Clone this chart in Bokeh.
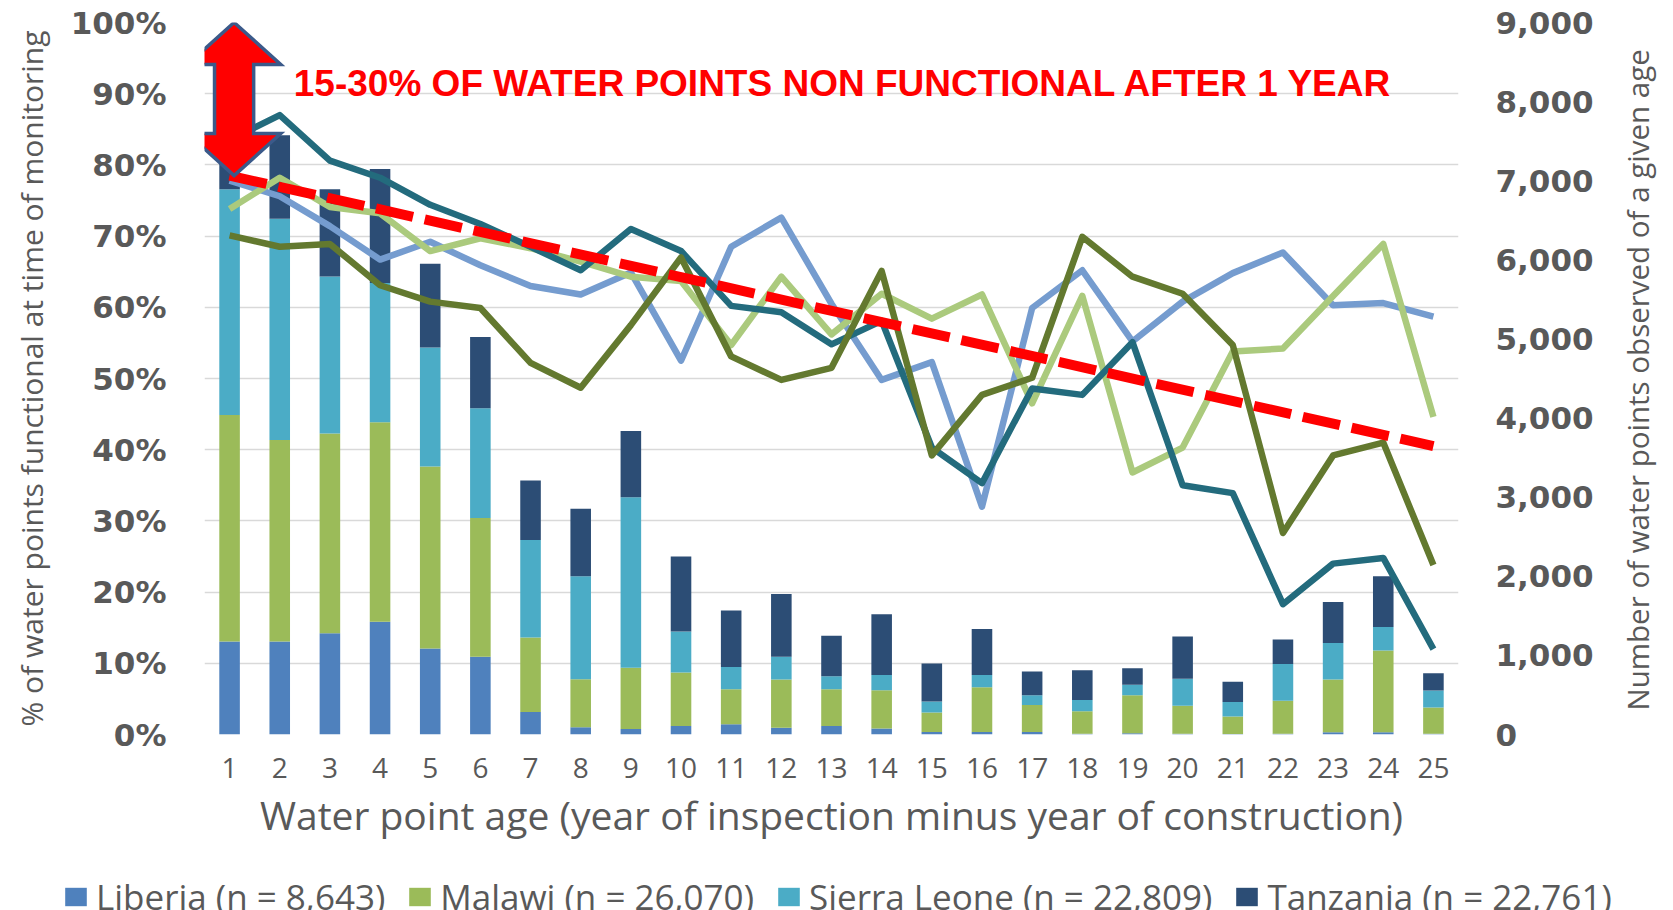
import math
from bokeh.plotting import figure
from bokeh.layouts import column, row
from bokeh.models import (Range1d, LinearAxis, FixedTicker, NumeralTickFormatter,
                          Legend, LegendItem, Label, ColumnDataSource)
from bokeh.embed import file_html
from bokeh.resources import INLINE

# ---------------- data ----------------
ages = [1, 2, 3, 4, 5, 6, 7, 8, 9, 10, 11, 12, 13, 14, 15, 16, 17, 18, 19, 20, 21, 22, 23, 24, 25]
age_labels = [str(a) for a in ages]

# number of water points observed of a given age (stacked bars, right axis)
liberia_counts = [1174, 1174, 1280, 1424, 1088, 982, 283, 91, 69, 107, 128, 85, 107, 75, 32, 32, 32, 10, 16, 11, 5, 11, 27, 27, 11]
malawi_counts = [2865, 2550, 2524, 2524, 2300, 1755, 944, 608, 774, 677, 443, 609, 464, 485, 245, 566, 341, 283, 480, 352, 224, 416, 667, 1035, 330]
sierra_leone_counts = [2854, 2795, 1984, 1760, 1504, 1387, 1232, 1302, 2155, 518, 283, 288, 165, 192, 139, 154, 123, 144, 134, 341, 182, 464, 464, 298, 214]
tanzania_counts = [900, 1057, 1105, 1441, 1057, 902, 753, 853, 838, 949, 714, 795, 512, 768, 480, 582, 299, 374, 208, 534, 256, 309, 517, 641, 219]

# % functional at time of monitoring (lines, left axis)
pct_liberia = [77.8, 75.6, 71.4, 66.7, 69.2, 65.9, 63.0, 61.8, 64.9, 52.5, 68.5, 72.6, 60.5, 49.8, 52.3, 32.0, 59.9, 65.2, 55.2, 60.8, 64.8, 67.7, 60.3, 60.6, 58.7]
pct_malawi = [73.8, 78.2, 74.1, 73.2, 67.9, 69.7, 68.3, 66.4, 64.3, 63.7, 54.7, 64.3, 56.2, 61.9, 58.4, 61.8, 46.5, 61.6, 36.8, 40.3, 53.8, 54.2, 61.6, 68.9, 44.6]
pct_sierra_leone = [83.5, 87.0, 80.6, 78.2, 74.4, 71.7, 68.5, 65.2, 71.0, 67.9, 60.2, 59.3, 54.8, 58.1, 40.3, 35.3, 48.6, 47.7, 55.1, 35.0, 33.9, 18.3, 24.0, 24.8, 12.0]
pct_tanzania = [70.1, 68.5, 68.9, 63.1, 60.8, 59.9, 52.2, 48.7, 57.5, 67.0, 53.1, 49.8, 51.5, 65.1, 39.2, 47.7, 50.1, 69.9, 64.3, 61.9, 54.7, 28.3, 39.2, 41.0, 23.8]

# red dashed trend
trend_ages = [1, 25]
trend_pct = [78.5, 40.5]

legend_labels = ["Liberia (n = 8,643)", "Malawi (n = 26,070)",
                 "Sierra Leone (n = 22,809)", "Tanzania (n = 22,761)"]
pct_ticks = [0, 10, 20, 30, 40, 50, 60, 70, 80, 90, 100]
count_ticks = [0, 1000, 2000, 3000, 4000, 5000, 6000, 7000, 8000, 9000]
annotation_text = "15-30% OF WATER POINTS NON FUNCTIONAL AFTER 1 YEAR"
left_title = "% of water points functional at time of monitoring"
right_title = "Number of water points observed of a given age"
x_title = "Water point age (year of inspection minus year of construction)"

# ---------------- styles ----------------
bar_colors = ["#4F81BD", "#9BBB59", "#4BACC6", "#2C4D75"]
line_colors = ["#759CCF", "#ABCA7D", "#236B7D", "#63792F"]
TXT = "#595959"

TOTAL_W, TOTAL_H = 1673, 910
MAIN_W, MAIN_H = 1610, 862
p = figure(width=MAIN_W, height=MAIN_H, output_backend="svg", toolbar_location=None,
           x_range=Range1d(0.5, 25.5), y_range=Range1d(0, 100),
           min_border_left=204, min_border_right=152, min_border_top=22,
           min_border_bottom=128)
p.outline_line_color = None
p.background_fill_color = "white"
p.border_fill_color = "white"
p.extra_y_ranges = {"count": Range1d(0, 9000)}

p.xgrid.grid_line_color = None
p.ygrid.grid_line_color = "#D9D9D9"
p.ygrid.grid_line_width = 1.5
p.ygrid.ticker = FixedTicker(ticks=pct_ticks)

# bars
src = ColumnDataSource(dict(age=ages, lib=liberia_counts, mal=malawi_counts,
                            sl=sierra_leone_counts, tz=tanzania_counts))
bars = p.vbar_stack(["lib", "mal", "sl", "tz"], x="age", width=0.41, color=bar_colors,
                    line_color=None, source=src, y_range_name="count")

# lines
for vals, col in zip([pct_liberia, pct_malawi, pct_sierra_leone, pct_tanzania], line_colors):
    p.line(ages, vals, line_color=col, line_width=6.5, line_join="round")

# trend dashed line
p.line(trend_ages, trend_pct, line_color="#FF0000", line_width=10, line_dash="38 12",
       line_cap="butt")

# double headed arrow (from 100% down to trend start)
cx, top, bot = 1.09, pct_ticks[-1], trend_pct[0]
hw, sw, hh = 0.93, 0.39, 5.9
ax_ = [cx, cx + hw, cx + sw, cx + sw, cx + hw, cx, cx - hw, cx - sw, cx - sw, cx - hw]
ay_ = [top, top - hh, top - hh, bot + hh, bot + hh, bot, bot + hh, bot + hh, top - hh, top - hh]
p.patch(ax_, ay_, fill_color="#FF0000", line_color="#3B5A8A", line_width=3.5, line_join="miter")

p.add_layout(Label(x=2.28, y=91.5, text=annotation_text, text_font="Liberation Sans",
                   text_font_style="bold", text_font_size="37px", text_color="#FF0000",
                   text_baseline="middle", text_align="left"))

# axes
xa = p.xaxis[0]
xa.ticker = FixedTicker(ticks=ages)
xa.major_label_overrides = {a: s for a, s in zip(ages, age_labels)}
xa.axis_line_color = None
xa.major_tick_line_color = None
xa.major_tick_out = 0
xa.minor_tick_line_color = None
xa.minor_tick_out = 0
xa.major_label_standoff = 23
xa.major_label_text_font = "Open Sans"
xa.major_label_text_font_size = "28px"
xa.major_label_text_color = TXT
xa.axis_label = x_title
xa.axis_label_text_font = "Open Sans"
xa.axis_label_text_font_style = "normal"
xa.axis_label_text_font_size = "39px"
xa.axis_label_text_color = TXT
xa.axis_label_standoff = 7

ya = p.yaxis[0]
ya.ticker = FixedTicker(ticks=pct_ticks)
ya.major_label_overrides = {t: f"{t}%" for t in pct_ticks}
ya.axis_line_color = None
ya.major_tick_line_color = None
ya.major_tick_out = 0
ya.minor_tick_line_color = None
ya.minor_tick_out = 0
ya.major_label_standoff = 38
ya.major_label_text_font = "DejaVu Sans"
ya.major_label_text_font_style = "bold"
ya.major_label_text_font_size = "31px"
ya.major_label_text_color = TXT
ya.axis_label = left_title
ya.axis_label_text_font = "Open Sans"
ya.axis_label_text_font_style = "normal"
ya.axis_label_text_font_size = "30px"
ya.axis_label_text_color = TXT
ya.axis_label_standoff = 16

ra = LinearAxis(y_range_name="count", ticker=FixedTicker(ticks=count_ticks),
                formatter=NumeralTickFormatter(format="0,0"))
ra.axis_line_color = None
ra.major_tick_line_color = None
ra.major_tick_out = 0
ra.minor_tick_line_color = None
ra.minor_tick_out = 0
ra.major_label_standoff = 37
ra.major_label_text_font = "DejaVu Sans"
ra.major_label_text_font_style = "bold"
ra.major_label_text_font_size = "31px"
ra.major_label_text_color = TXT
p.add_layout(ra, "right")

# right axis title in its own narrow panel (reads bottom-to-top)
RT_W = TOTAL_W - MAIN_W
rt = figure(width=RT_W, height=MAIN_H, output_backend="svg", toolbar_location=None,
            x_range=Range1d(0, 1), y_range=Range1d(0, 1),
            x_axis_location=None, y_axis_location=None, min_border=0)
rt.outline_line_color = None
rt.grid.grid_line_color = None
rt.add_layout(Label(x=0.43, y=0.498, text=right_title, angle=math.pi / 2,
                    text_font="Open Sans", text_font_size="29.5px", text_color=TXT,
                    text_align="center", text_baseline="middle"))

# legend strip
lg = figure(width=TOTAL_W, height=TOTAL_H - MAIN_H, output_backend="svg", toolbar_location=None,
            x_range=Range1d(0, 1), y_range=Range1d(0, 1),
            x_axis_location=None, y_axis_location=None, min_border=0)
lg.outline_line_color = None
lg.grid.grid_line_color = None
dummies = [lg.vbar(x=[0.5], top=[0], bottom=[0], width=0.001, fill_color=c, line_color=None)
           for c in bar_colors]
legend = Legend(items=[LegendItem(label=lab, renderers=[r]) for lab, r in zip(legend_labels, dummies)],
                orientation="horizontal", location=(62, -10),
                label_text_font="Open Sans", label_text_font_size="35px",
                label_text_color=TXT, glyph_width=27, glyph_height=23,
                label_standoff=7, spacing=21, padding=0, margin=0,
                border_line_color=None, background_fill_alpha=0)
lg.add_layout(legend)

layout = column(row(p, rt, spacing=0), lg, spacing=0)
open("out.html", "w").write(file_html(layout, INLINE))
